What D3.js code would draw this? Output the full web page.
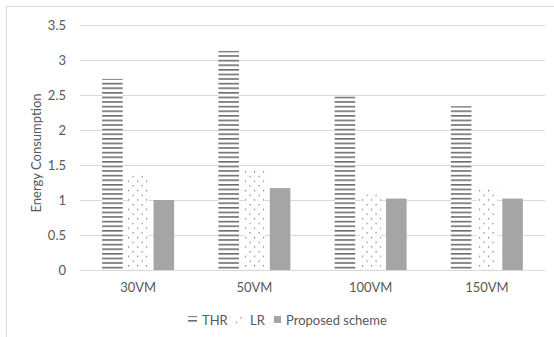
<!DOCTYPE html>
<html><head><meta charset="utf-8">
<script src="https://cdn.jsdelivr.net/npm/d3@7"></script>
<style>body{margin:0;background:#fff}text{font-family:Lato,"Open Sans",sans-serif}</style>
</head><body><svg id="c" width="554" height="337"></svg>
<script>
const categories = ["30VM","50VM","100VM","150VM"];
const seriesNames = ["THR","LR","Proposed scheme"];
const thr = [2.73,3.13,2.48,2.34];
const lr = [1.35,1.43,1.08,1.15];
const proposed = [1.0,1.17,1.02,1.02];
const yTicks = [0,0.5,1,1.5,2,2.5,3,3.5];
const yTickLabels = ["0","0.5","1","1.5","2","2.5","3","3.5"];

const svg = d3.select("#c");
const W=554,H=337;
const m={l:80,r:9,t:25,b:67};
const defs = svg.append("defs");
const pH = defs.append("pattern").attr("id","pHor").attr("patternUnits","userSpaceOnUse").attr("width",6).attr("height",4.6);
pH.append("rect").attr("x",0).attr("y",0).attr("width",6).attr("height",4.6).attr("fill","#fff");
pH.append("rect").attr("x",0).attr("y",0).attr("width",6).attr("height",1.6).attr("fill","#6e6e6e");
const pD = defs.append("pattern").attr("id","pDot").attr("patternUnits","userSpaceOnUse").attr("width",9).attr("height",9.4);
pD.append("rect").attr("width",9).attr("height",9.4).attr("fill","#fff");
pD.append("rect").attr("x",2).attr("y",2).attr("width",1.2).attr("height",1.2).attr("fill","#707070");
pD.append("rect").attr("x",6.5).attr("y",6.7).attr("width",1.2).attr("height",1.2).attr("fill","#707070");

svg.append("rect").attr("x",6.5).attr("y",6.5).attr("width",W).attr("height",H).attr("fill","none").attr("stroke","#d9d9d9");

const x = d3.scaleBand().domain(categories).range([m.l,W-m.r]).padding(0);
const y = d3.scaleLinear().domain([0,3.5]).range([H-m.b,m.t]);

const g = svg.append("g");
g.selectAll(".grid").data(yTicks).join("line")
 .attr("x1",m.l).attr("x2",W-m.r).attr("y1",d=>Math.round(y(d))+0.5).attr("y2",d=>Math.round(y(d))+0.5)
 .attr("stroke","#d9d9d9").attr("stroke-width",1);

const yAxis = d3.axisLeft(y).tickValues(yTicks).tickFormat((d,i)=>yTickLabels[i]).tickSize(0).tickPadding(14);
const ya = svg.append("g").attr("transform",`translate(${m.l},0)`).call(yAxis);
ya.select(".domain").remove();
ya.selectAll("text").attr("fill","#595959").style("font-size","13px").style("font-family","Lato");

const xAxis = d3.axisBottom(x).tickSize(0).tickPadding(13);
const xa = svg.append("g").attr("transform",`translate(0,${H-m.b})`).call(xAxis);
xa.select(".domain").attr("stroke","#d9d9d9");
xa.selectAll("text").attr("fill","#595959").style("font-size","13px").style("font-family","Lato");

const inner = d3.scaleBand().domain(seriesNames).range([-36,36]).paddingInner(0.2);
const fills = ["url(#pHor)","url(#pDot)","#a5a5a5"];
const data = [thr,lr,proposed];
seriesNames.forEach((s,si)=>{
  g.selectAll(".b"+si).data(categories).join("rect")
   .attr("x",c=>x(c)+x.bandwidth()/2+inner(s))
   .attr("width",inner.bandwidth())
   .attr("y",(c,i)=>y(data[si][i]))
   .attr("height",(c,i)=>y(0)-y(data[si][i]))
   .attr("fill",fills[si]);
});
svg.append("line").attr("x1",m.l).attr("x2",W-m.r).attr("y1",Math.round(y(0))+0.5).attr("y2",Math.round(y(0))+0.5).attr("stroke","#d9d9d9");

svg.append("text").attr("transform","translate(41,153) rotate(-90)").attr("text-anchor","middle")
 .attr("fill","#595959").style("font-size","13px").text("Energy Consumption");

const leg = svg.append("g").attr("transform","translate(0,320)");
const items = [
  {x:188,label:"THR",fill:"url(#pHor)"},
  {x:236,label:"LR",fill:"url(#pDot)"},
  {x:274,label:"Proposed scheme",fill:"#a5a5a5"}
];
leg.selectAll("rect").data(items).join("rect")
 .attr("x",d=>d.x).attr("y",-4).attr("width",d=>d.x===274?7:9).attr("height",7).attr("fill",d=>d.fill);
leg.selectAll("text").data(items).join("text")
 .attr("x",d=>d.x+(d.x===274?12:14)).attr("y",4.5).attr("fill","#595959").style("font-size","13px").text(d=>d.label);
</script></body></html>
